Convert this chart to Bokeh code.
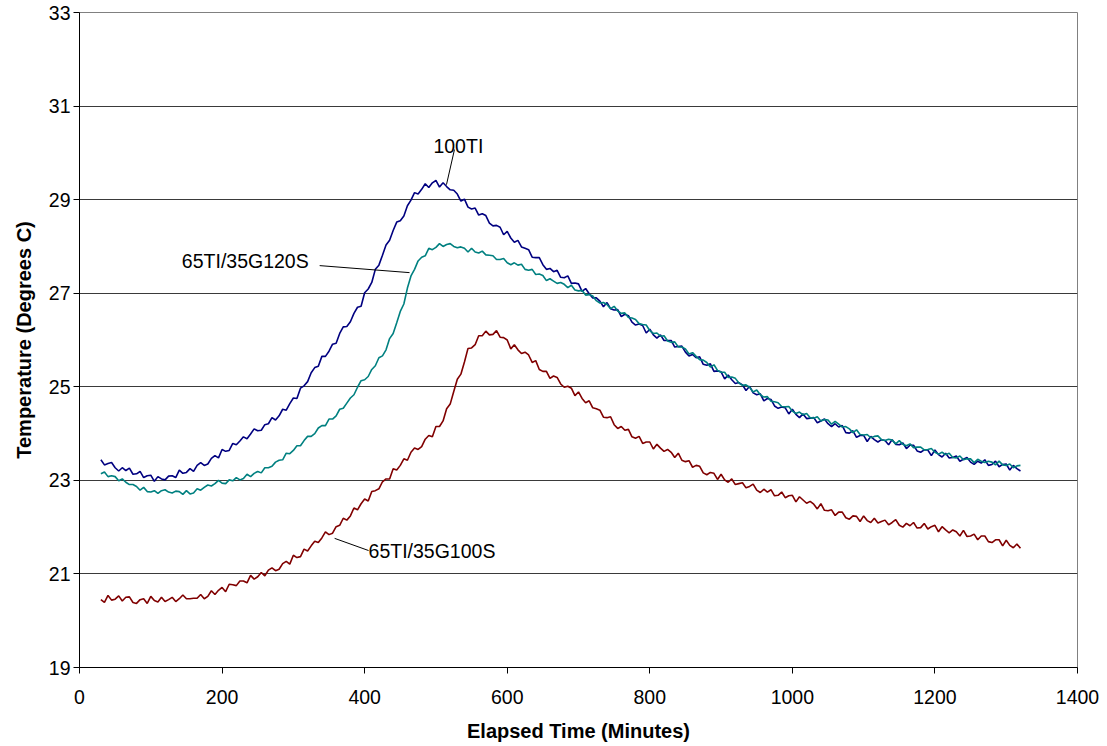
from bokeh.plotting import figure
from bokeh.models import FixedTicker, Title
from bokeh.core.properties import value
from bokeh.embed import file_html
from bokeh.resources import INLINE

# ---------------- data ----------------
elapsed_min = [
    30, 35, 40, 45, 50, 55, 60, 65, 70, 75,
    80, 85, 90, 95, 100, 105, 110, 115, 120, 125,
    130, 135, 140, 145, 150, 155, 160, 165, 170, 175,
    180, 185, 190, 195, 200, 205, 210, 215, 220, 225,
    230, 235, 240, 245, 250, 255, 260, 265, 270, 275,
    280, 285, 290, 295, 300, 305, 310, 315, 320, 325,
    330, 335, 340, 345, 350, 355, 360, 365, 370, 375,
    380, 385, 390, 395, 400, 405, 410, 415, 420, 425,
    430, 435, 440, 445, 450, 455, 460, 465, 470, 475,
    480, 485, 490, 495, 500, 505, 510, 515, 520, 525,
    530, 535, 540, 545, 550, 555, 560, 565, 570, 575,
    580, 585, 590, 595, 600, 605, 610, 615, 620, 625,
    630, 635, 640, 645, 650, 655, 660, 665, 670, 675,
    680, 685, 690, 695, 700, 705, 710, 715, 720, 725,
    730, 735, 740, 745, 750, 755, 760, 765, 770, 775,
    780, 785, 790, 795, 800, 805, 810, 815, 820, 825,
    830, 835, 840, 845, 850, 855, 860, 865, 870, 875,
    880, 885, 890, 895, 900, 905, 910, 915, 920, 925,
    930, 935, 940, 945, 950, 955, 960, 965, 970, 975,
    980, 985, 990, 995, 1000, 1005, 1010, 1015, 1020, 1025,
    1030, 1035, 1040, 1045, 1050, 1055, 1060, 1065, 1070, 1075,
    1080, 1085, 1090, 1095, 1100, 1105, 1110, 1115, 1120, 1125,
    1130, 1135, 1140, 1145, 1150, 1155, 1160, 1165, 1170, 1175,
    1180, 1185, 1190, 1195, 1200, 1205, 1210, 1215, 1220, 1225,
    1230, 1235, 1240, 1245, 1250, 1255, 1260, 1265, 1270, 1275,
    1280, 1285, 1290, 1295, 1300, 1305, 1310, 1315, 1320,
]

temp_100TI = [
    23.44, 23.33, 23.36, 23.38, 23.27, 23.20, 23.27, 23.21, 23.26, 23.13,
    23.14, 23.19, 23.06, 23.10, 23.11, 22.98, 23.08, 23.03, 23.01, 23.09,
    23.10, 23.06, 23.22, 23.15, 23.17, 23.25, 23.19, 23.32, 23.38, 23.32,
    23.35, 23.47, 23.53, 23.48, 23.66, 23.62, 23.64, 23.79, 23.76, 23.84,
    23.93, 23.89, 23.99, 24.10, 24.06, 24.07, 24.19, 24.21, 24.34, 24.29,
    24.38, 24.52, 24.50, 24.64, 24.76, 24.75, 24.97, 25.02, 25.11, 25.30,
    25.41, 25.44, 25.65, 25.65, 25.76, 25.91, 25.93, 26.14, 26.28, 26.29,
    26.39, 26.57, 26.70, 26.72, 27.01, 27.09, 27.23, 27.51, 27.60, 27.81,
    28.03, 28.13, 28.34, 28.52, 28.55, 28.65, 28.87, 28.99, 29.15, 29.12,
    29.22, 29.34, 29.26, 29.36, 29.41, 29.27, 29.36, 29.28, 29.21, 29.20,
    29.12, 28.97, 29.01, 28.84, 28.80, 28.82, 28.67, 28.70, 28.66, 28.50,
    28.44, 28.45, 28.41, 28.25, 28.32, 28.18, 28.09, 28.13, 27.99, 27.96,
    27.93, 27.77, 27.76, 27.76, 27.61, 27.51, 27.53, 27.46, 27.49, 27.34,
    27.33, 27.37, 27.21, 27.22, 27.20, 27.04, 27.10, 26.99, 26.90, 26.90,
    26.83, 26.71, 26.80, 26.67, 26.64, 26.65, 26.50, 26.55, 26.52, 26.38,
    26.32, 26.34, 26.31, 26.15, 26.23, 26.11, 26.04, 26.11, 25.99, 25.99,
    25.99, 25.85, 25.86, 25.87, 25.74, 25.66, 25.69, 25.62, 25.64, 25.48,
    25.46, 25.49, 25.33, 25.34, 25.32, 25.17, 25.25, 25.15, 25.07, 25.09,
    25.04, 24.92, 25.01, 24.87, 24.83, 24.85, 24.70, 24.75, 24.73, 24.59,
    24.54, 24.57, 24.55, 24.42, 24.52, 24.41, 24.34, 24.42, 24.32, 24.33,
    24.34, 24.23, 24.27, 24.31, 24.21, 24.15, 24.21, 24.14, 24.17, 24.02,
    24.01, 24.06, 23.92, 23.96, 23.96, 23.83, 23.94, 23.87, 23.82, 23.87,
    23.85, 23.76, 23.87, 23.77, 23.76, 23.80, 23.68, 23.75, 23.75, 23.63,
    23.60, 23.65, 23.65, 23.53, 23.65, 23.55, 23.50, 23.58, 23.48, 23.49,
    23.52, 23.41, 23.45, 23.49, 23.39, 23.34, 23.41, 23.37, 23.44, 23.32,
    23.34, 23.41, 23.29, 23.34, 23.35, 23.22, 23.32, 23.25, 23.20,
]

temp_65TI_35G120S = [
    23.14, 23.18, 23.08, 23.10, 23.08, 22.99, 23.03, 22.96, 22.91, 22.91,
    22.87, 22.79, 22.85, 22.76, 22.75, 22.78, 22.72, 22.78, 22.80, 22.75,
    22.73, 22.77, 22.76, 22.70, 22.78, 22.71, 22.73, 22.82, 22.79, 22.85,
    22.90, 22.88, 22.93, 23.00, 22.94, 22.93, 23.01, 22.99, 23.06, 23.01,
    23.04, 23.13, 23.08, 23.15, 23.19, 23.16, 23.27, 23.27, 23.30, 23.39,
    23.43, 23.44, 23.58, 23.57, 23.64, 23.74, 23.74, 23.85, 23.94, 23.94,
    24.00, 24.12, 24.17, 24.17, 24.31, 24.31, 24.38, 24.52, 24.54, 24.65,
    24.76, 24.83, 24.99, 25.13, 25.15, 25.22, 25.37, 25.45, 25.62, 25.66,
    25.79, 26.03, 26.14, 26.37, 26.61, 26.77, 27.11, 27.37, 27.51, 27.69,
    27.77, 27.80, 27.96, 27.93, 27.98, 28.06, 28.00, 28.04, 28.06, 28.00,
    27.97, 27.99, 27.96, 27.88, 27.96, 27.88, 27.86, 27.90, 27.82, 27.81,
    27.80, 27.72, 27.72, 27.74, 27.65, 27.61, 27.65, 27.60, 27.62, 27.51,
    27.49, 27.51, 27.40, 27.41, 27.38, 27.27, 27.31, 27.26, 27.21, 27.23,
    27.19, 27.12, 27.17, 27.07, 27.05, 27.06, 26.96, 26.97, 26.94, 26.84,
    26.79, 26.80, 26.76, 26.67, 26.72, 26.62, 26.57, 26.58, 26.48, 26.47,
    26.44, 26.35, 26.33, 26.32, 26.20, 26.14, 26.15, 26.08, 26.09, 25.98,
    25.95, 25.96, 25.85, 25.85, 25.81, 25.70, 25.73, 25.65, 25.58, 25.57,
    25.52, 25.42, 25.47, 25.35, 25.31, 25.31, 25.20, 25.21, 25.18, 25.08,
    25.03, 25.04, 24.99, 24.89, 24.93, 24.83, 24.78, 24.79, 24.69, 24.68,
    24.66, 24.58, 24.57, 24.58, 24.48, 24.43, 24.46, 24.40, 24.43, 24.34,
    24.33, 24.36, 24.27, 24.30, 24.29, 24.20, 24.26, 24.20, 24.14, 24.15,
    24.10, 24.02, 24.08, 23.98, 23.97, 23.98, 23.91, 23.94, 23.95, 23.87,
    23.85, 23.88, 23.86, 23.78, 23.85, 23.77, 23.74, 23.78, 23.70, 23.71,
    23.71, 23.65, 23.66, 23.68, 23.60, 23.56, 23.60, 23.55, 23.58, 23.49,
    23.48, 23.52, 23.44, 23.46, 23.46, 23.38, 23.45, 23.41, 23.38, 23.41,
    23.39, 23.33, 23.41, 23.33, 23.32, 23.35, 23.27, 23.31, 23.32,
]

temp_65TI_35G100S = [
    20.45, 20.39, 20.54, 20.44, 20.46, 20.53, 20.42, 20.50, 20.51, 20.39,
    20.37, 20.45, 20.47, 20.37, 20.52, 20.43, 20.40, 20.50, 20.41, 20.45,
    20.50, 20.41, 20.47, 20.55, 20.47, 20.47, 20.48, 20.48, 20.56, 20.47,
    20.52, 20.64, 20.56, 20.65, 20.71, 20.62, 20.78, 20.77, 20.75, 20.85,
    20.85, 20.81, 20.97, 20.89, 20.94, 21.03, 20.96, 21.08, 21.13, 21.07,
    21.10, 21.22, 21.27, 21.21, 21.40, 21.35, 21.37, 21.53, 21.49, 21.60,
    21.70, 21.67, 21.77, 21.90, 21.84, 21.87, 22.01, 22.04, 22.19, 22.15,
    22.24, 22.41, 22.37, 22.50, 22.60, 22.56, 22.76, 22.78, 22.82, 22.97,
    23.03, 23.03, 23.25, 23.22, 23.32, 23.46, 23.43, 23.60, 23.69, 23.66,
    23.72, 23.88, 23.96, 23.93, 24.15, 24.15, 24.27, 24.53, 24.63, 24.90,
    25.16, 25.27, 25.53, 25.82, 25.83, 25.90, 26.09, 26.09, 26.19, 26.11,
    26.12, 26.20, 26.06, 26.05, 26.00, 25.81, 25.90, 25.79, 25.71, 25.74,
    25.68, 25.52, 25.56, 25.37, 25.33, 25.33, 25.18, 25.23, 25.20, 25.06,
    24.99, 25.01, 24.97, 24.81, 24.89, 24.75, 24.66, 24.70, 24.55, 24.53,
    24.50, 24.35, 24.34, 24.36, 24.19, 24.11, 24.15, 24.07, 24.09, 23.93,
    23.90, 23.94, 23.79, 23.82, 23.82, 23.67, 23.77, 23.69, 23.62, 23.66,
    23.60, 23.49, 23.58, 23.43, 23.40, 23.42, 23.28, 23.32, 23.30, 23.16,
    23.12, 23.17, 23.15, 23.02, 23.13, 23.01, 22.96, 23.03, 22.91, 22.93,
    22.95, 22.84, 22.87, 22.92, 22.79, 22.74, 22.81, 22.75, 22.80, 22.67,
    22.68, 22.75, 22.63, 22.67, 22.68, 22.54, 22.65, 22.58, 22.51, 22.55,
    22.49, 22.39, 22.50, 22.36, 22.35, 22.37, 22.25, 22.32, 22.32, 22.20,
    22.17, 22.24, 22.23, 22.12, 22.24, 22.14, 22.10, 22.19, 22.09, 22.12,
    22.15, 22.05, 22.10, 22.16, 22.04, 22.00, 22.08, 22.03, 22.10, 21.98,
    21.99, 22.08, 21.96, 22.01, 22.04, 21.90, 22.01, 21.94, 21.88, 21.94,
    21.90, 21.81, 21.93, 21.80, 21.81, 21.85, 21.73, 21.81, 21.81, 21.69,
    21.67, 21.73, 21.73, 21.60, 21.72, 21.61, 21.56, 21.64, 21.55,
]

x_ticks = [0, 200, 400, 600, 800, 1000, 1200, 1400]
y_ticks = [19, 21, 23, 25, 27, 29, 31, 33]

series_names = ["100TI", "65TI/35G120S", "65TI/35G100S"]

# ---------------- figure ----------------
FONT = "Liberation Sans"

p = figure(
    width=1099, height=745,
    x_range=(0, 1400), y_range=(19, 33),
    output_backend="svg", toolbar_location=None, title=None,
    min_border_left=78, min_border_right=22,
    min_border_top=12, min_border_bottom=78,
)
p.background_fill_color = "white"
p.border_fill_color = "white"
p.outline_line_color = "#808080"
p.outline_line_width = 1

for ax in (p.xaxis[0], p.yaxis[0]):
    ax.axis_line_color = "black"
    ax.axis_line_width = 1
    ax.major_tick_line_color = "black"
    ax.major_tick_out = 6
    ax.major_tick_in = 0
    ax.minor_tick_line_color = None
    ax.major_label_text_font = FONT
    ax.major_label_text_font_size = "19.5px"
    ax.major_label_text_color = "black"

p.xaxis.ticker = FixedTicker(ticks=x_ticks)
p.yaxis.ticker = FixedTicker(ticks=y_ticks)
p.xaxis.major_label_standoff = 16
p.yaxis.major_label_standoff = 3

p.xaxis.axis_label = "Elapsed Time (Minutes)"
p.xaxis.axis_label_text_font = FONT
p.xaxis.axis_label_text_font_size = "20px"
p.xaxis.axis_label_text_font_style = "bold"
p.xaxis.axis_label_text_color = "black"
p.xaxis.axis_label_standoff = 13

ytitle = Title(text="Temperature (Degrees C)", align="center",
               text_font=FONT, text_font_size="20px", text_font_style="bold",
               text_color="black", offset=23, standoff=21)
p.add_layout(ytitle, "left")

p.xgrid.visible = False
p.ygrid.ticker = FixedTicker(ticks=y_ticks)
p.ygrid.grid_line_color = "#3a3a3a"
p.ygrid.grid_line_width = 1

# ---------------- series ----------------
p.line(elapsed_min, temp_65TI_35G100S, line_color="#800000", line_width=1.6)
p.line(elapsed_min, temp_100TI, line_color="#000080", line_width=1.6)
p.line(elapsed_min, temp_65TI_35G120S, line_color="#008080", line_width=1.6)

# ---------------- callout labels with leader lines ----------------
label_x = [496.5, 143.6, 405.5]
label_y = [30.14, 27.68, 21.48]
leader_x0 = [526.0, 336.9, 357.9]
leader_y0 = [30.07, 27.59, 21.76]
leader_x1 = [514.8, 463.0, 405.5]
leader_y1 = [29.32, 27.44, 21.50]

p.segment(leader_x0, leader_y0, leader_x1, leader_y1, line_color="black", line_width=1)
p.text(label_x, label_y, text=series_names, text_font=value(FONT),
       text_font_size="19.5px", text_color="black",
       text_align="left", text_baseline="alphabetic")

open("out.html", "w").write(file_html(p, INLINE))
